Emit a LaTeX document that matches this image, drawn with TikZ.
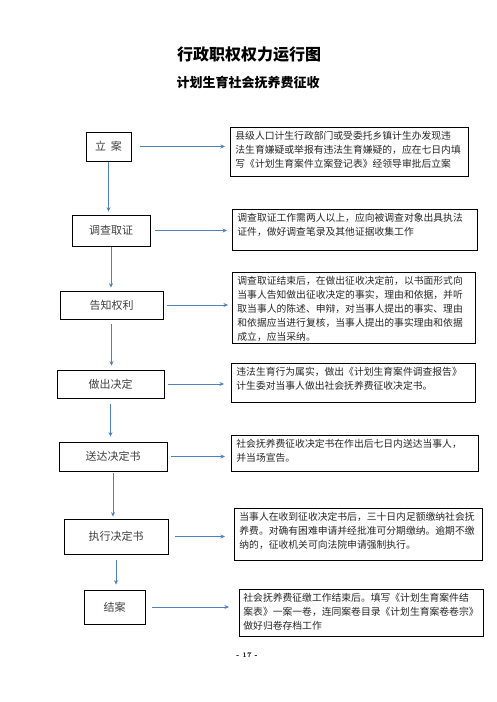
\documentclass[tikz,border=0pt]{standalone}
\usepackage{fontspec}
\usetikzlibrary{arrows.meta}

\newfontfamily\cjk{Noto Sans CJK SC}
\definecolor{flowblue}{RGB}{79,129,189}
% note text: width, height, lines
\newcommand{\notetext}[3]{\parbox[c][#2][t]{#1}{#3}}

\begin{document}
\begin{tikzpicture}[x=1pt,y=-1pt,
  stepbox/.style={draw, line width=0.8pt, inner sep=0pt, text=black!75,
    font=\cjk\fontsize{11}{13}\selectfont},
  notebox/.style={draw, line width=0.8pt, anchor=north west, inner xsep=5pt,
    inner ysep=4pt, text=black!85, font=\cjk\fontsize{9.8}{14}\selectfont},
  flow/.style={draw=flowblue, line width=1pt, -{Stealth[length=4.5pt,width=4pt]}}]

\useasboundingbox (0,0) rectangle (496,702);

% Titles
\node[font=\cjk\bfseries\fontsize{16}{18}\selectfont] (title) at (249,55) {行政职权权力运行图};
\node[font=\cjk\bfseries\fontsize{13}{15}\selectfont] (subtitle) at (248,83) {计划生育社会抚养费征收};

% Steps on the left
\node[stepbox, minimum width=45pt, minimum height=29pt] (s1) at (108.5,146.5) {立\hspace{5pt}案};
\node[stepbox, minimum width=78pt, minimum height=31pt] (s2) at (111,230.5) {调查取证};
\node[stepbox, minimum width=103pt, minimum height=28pt] (s3) at (111.5,305) {告知权利};
\node[stepbox, minimum width=107pt, minimum height=28pt] (s4) at (110.5,384) {做出决定};
\node[stepbox, minimum width=108pt, minimum height=29pt] (s5) at (113,456.5) {送达决定书};
\node[stepbox, minimum width=104pt, minimum height=35pt] (s6) at (116,536.5) {执行决定书};
\node[stepbox, minimum width=61pt, minimum height=34pt] (s7) at (114.5,607) {结案};

% Notes on the right
\node[notebox] (n1) at (230,127) {\notetext{228pt}{41pt}{%
  县级人口计生行政部门或受委托乡镇计生办发现违\\
  法生育嫌疑或举报有违法生育嫌疑的，应在七日内填\\
  写《计划生育案件立案登记表》经领导审批后立案}};
\node[notebox] (n2) at (232,209) {\notetext{235pt}{33pt}{%
  调查取证工作需两人以上，应向被调查对象出具执法\\
  证件，做好调查笔录及其他证据收集工作}};
\node[notebox] (n3) at (232,272) {\notetext{233pt}{63pt}{%
  调查取证结束后，在做出征收决定前，以书面形式向\\
  当事人告知做出征收决定的事实，理由和依据，并听\\
  取当事人的陈述、申辩，对当事人提出的事实、理由\\
  和依据应当进行复核，当事人提出的事实理由和依据\\
  成立，应当采纳。}};
\node[notebox] (n4) at (231,363) {\notetext{234pt}{31pt}{%
  违法生育行为属实，做出《计划生育案件调查报告》\\
  计生委对当事人做出社会抚养费征收决定书。}};
\node[notebox] (n5) at (231,435) {\notetext{237pt}{28pt}{%
  社会抚养费征收决定书在作出后七日内送达当事人，\\
  并当场宣告。}};
\node[notebox] (n6) at (234,508) {\notetext{238pt}{44pt}{%
  当事人在收到征收决定书后，三十日内足额缴纳社会抚\\
  养费。对确有困难申请并经批准可分期缴纳。逾期不缴\\
  纳的，征收机关可向法院申请强制执行。}};
\node[notebox, inner xsep=4pt] (n7) at (239,589) {\notetext{236pt}{39pt}{%
  社会抚养费征缴工作结束后。填写《计划生育案件结\\
  案表》一案一卷，连同案卷目录《计划生育案卷卷宗》\\
  做好归卷存档工作}};

% Arrows down the steps
\draw[flow, shorten <=1pt, shorten >=3pt] (s1.south) -- (s1.south |- s2.north);
\draw[flow, shorten <=1pt, shorten >=3pt] (s2.south) -- (s2.south |- s3.north);
\draw[flow, shorten <=5pt, shorten >=4pt] (s3.south) -- (s3.south |- s4.north);
\draw[flow, shorten <=6pt, shorten >=5pt] (s4.south) -- (s4.south |- s5.north);
\draw[flow, shorten <=2pt, shorten >=2pt] (s5.south) -- (s5.south |- s6.north);
\draw[flow, shorten <=6pt, shorten >=5pt] (s6.south) -- (s6.south |- s7.north);

% Arrows to the notes
\draw[flow, shorten <=9pt, shorten >=5pt] (s1.east) -- (s1.east -| n1.west);
\draw[flow, shorten <=5pt, shorten >=5pt] (s2.east) -- (s2.east -| n2.west);
\draw[flow, shorten <=4pt, shorten >=4pt] (s3.east) -- (s3.east -| n3.west);
\draw[flow, shorten <=4pt, shorten >=7pt] (s4.east) -- (s4.east -| n4.west);
\draw[flow, shorten <=4pt, shorten >=6pt] (s5.east) -- (s5.east -| n5.west);
\draw[flow, shorten <=7pt, shorten >=9pt] (s6.east) -- (s6.east -| n6.west);
\draw[flow, shorten <=7pt, shorten >=10pt] (s7.east) -- (s7.east -| n7.west);

% Page number
\node[font=\bfseries\fontsize{7}{8}\selectfont] (page) at (247,655) {- 17 -};

\end{tikzpicture}
\end{document}
